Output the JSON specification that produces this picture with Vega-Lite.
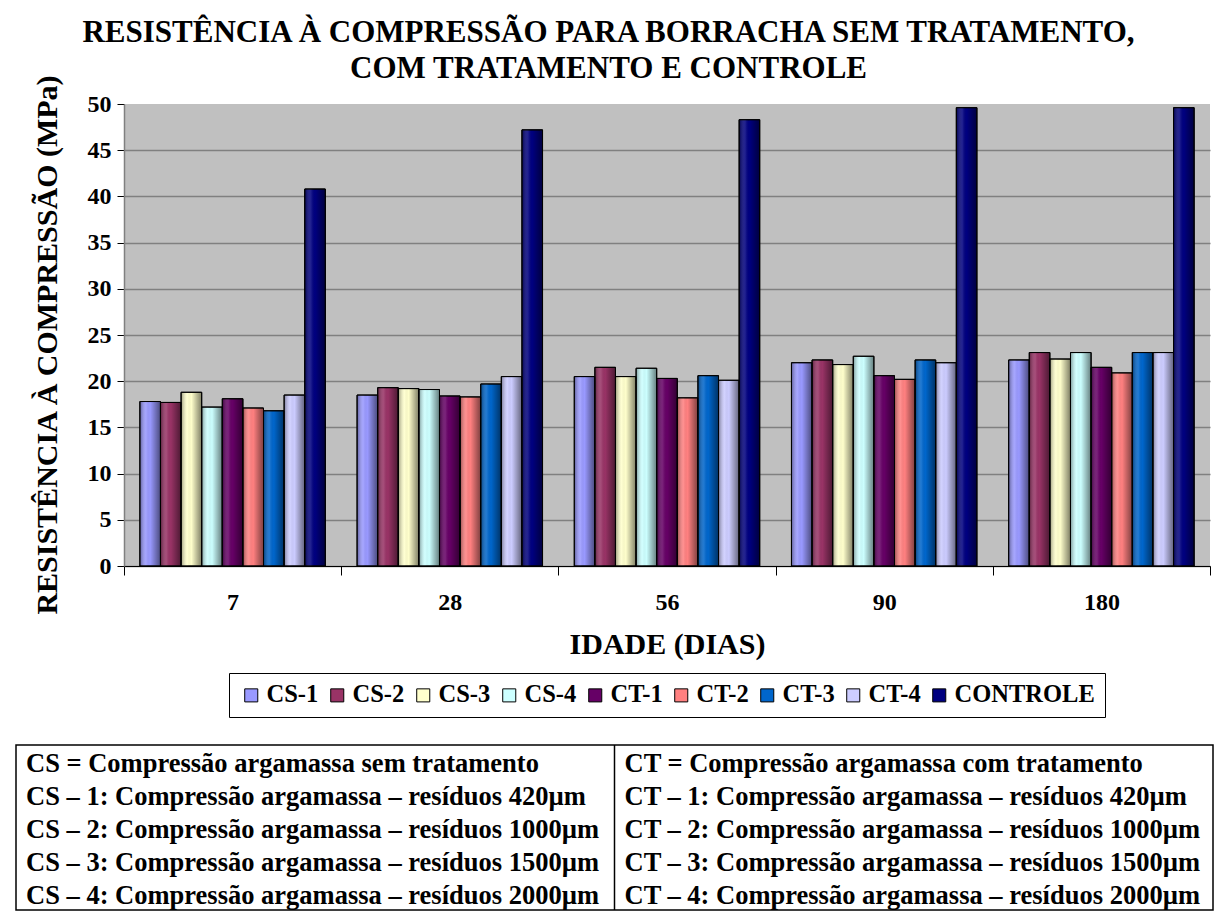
{
  "$schema": "https://vega.github.io/schema/vega-lite/v6.json",
  "padding": {"left": 15, "top": 16, "right": 10, "bottom": 5},
  "background": "white",
  "config": {
    "font": "Liberation Serif",
    "view": {"stroke": null},
    "axis": {"labelFont": "Liberation Serif", "titleFont": "Liberation Serif", "labelColor": "black", "titleColor": "black"},
    "legend": {"labelFont": "Liberation Serif", "layout": {"bottom": {"anchor": "middle"}}}
  },
  "title": {
    "text": ["RESISTÊNCIA À COMPRESSÃO PARA BORRACHA SEM TRATAMENTO,", "COM TRATAMENTO E CONTROLE"],
    "fontSize": 31,
    "lineHeight": 36,
    "font": "Liberation Serif",
    "fontWeight": "bold",
    "color": "black",
    "anchor": "middle",
    "dx": -6,
    "offset": -10
  },
  "spacing": 25,
  "resolve": {"scale": {"color": "independent"}, "legend": {"color": "independent"}},
  "vconcat": [
    {
      "spacing": 7,
      "resolve": {"scale": {"color": "independent"}, "legend": {"color": "independent"}},
      "hconcat": [
        {
          "width": 64,
          "height": 482,
          "data": {"values": [{"t": "RESISTÊNCIA À COMPRESSÃO (MPa)"}]},
          "mark": {"type": "text", "angle": 270, "fontSize": 30, "fontWeight": "bold", "font": "Liberation Serif", "color": "black", "baseline": "middle", "align": "center"},
          "encoding": {
            "text": {"field": "t"},
            "x": {"field": "t", "type": "nominal", "scale": {"type": "point", "padding": 0.5}, "axis": null},
            "y": {"field": "t", "type": "nominal", "scale": {"type": "point", "padding": 0.5}, "axis": null}
          }
        },
        {
          "width": 1086,
          "height": 462,
          "view": {"fill": "#C0C0C0", "stroke": null},
          "data": {
            "values": [
              {"idade": "7", "serie": "CS-1", "valor": 17.8},
              {"idade": "7", "serie": "CS-2", "valor": 17.7},
              {"idade": "7", "serie": "CS-3", "valor": 18.8},
              {"idade": "7", "serie": "CS-4", "valor": 17.2},
              {"idade": "7", "serie": "CT-1", "valor": 18.1},
              {"idade": "7", "serie": "CT-2", "valor": 17.1},
              {"idade": "7", "serie": "CT-3", "valor": 16.8},
              {"idade": "7", "serie": "CT-4", "valor": 18.5},
              {"idade": "7", "serie": "CONTROLE", "valor": 40.8},
              {"idade": "28", "serie": "CS-1", "valor": 18.5},
              {"idade": "28", "serie": "CS-2", "valor": 19.3},
              {"idade": "28", "serie": "CS-3", "valor": 19.2},
              {"idade": "28", "serie": "CS-4", "valor": 19.1},
              {"idade": "28", "serie": "CT-1", "valor": 18.4},
              {"idade": "28", "serie": "CT-2", "valor": 18.3},
              {"idade": "28", "serie": "CT-3", "valor": 19.7},
              {"idade": "28", "serie": "CT-4", "valor": 20.5},
              {"idade": "28", "serie": "CONTROLE", "valor": 47.2},
              {"idade": "56", "serie": "CS-1", "valor": 20.5},
              {"idade": "56", "serie": "CS-2", "valor": 21.5},
              {"idade": "56", "serie": "CS-3", "valor": 20.5},
              {"idade": "56", "serie": "CS-4", "valor": 21.4},
              {"idade": "56", "serie": "CT-1", "valor": 20.3},
              {"idade": "56", "serie": "CT-2", "valor": 18.2},
              {"idade": "56", "serie": "CT-3", "valor": 20.6},
              {"idade": "56", "serie": "CT-4", "valor": 20.1},
              {"idade": "56", "serie": "CONTROLE", "valor": 48.3},
              {"idade": "90", "serie": "CS-1", "valor": 22.0},
              {"idade": "90", "serie": "CS-2", "valor": 22.3},
              {"idade": "90", "serie": "CS-3", "valor": 21.8},
              {"idade": "90", "serie": "CS-4", "valor": 22.7},
              {"idade": "90", "serie": "CT-1", "valor": 20.6},
              {"idade": "90", "serie": "CT-2", "valor": 20.2},
              {"idade": "90", "serie": "CT-3", "valor": 22.3},
              {"idade": "90", "serie": "CT-4", "valor": 22.0},
              {"idade": "90", "serie": "CONTROLE", "valor": 49.6},
              {"idade": "180", "serie": "CS-1", "valor": 22.3},
              {"idade": "180", "serie": "CS-2", "valor": 23.1},
              {"idade": "180", "serie": "CS-3", "valor": 22.4},
              {"idade": "180", "serie": "CS-4", "valor": 23.1},
              {"idade": "180", "serie": "CT-1", "valor": 21.5},
              {"idade": "180", "serie": "CT-2", "valor": 20.9},
              {"idade": "180", "serie": "CT-3", "valor": 23.1},
              {"idade": "180", "serie": "CT-4", "valor": 23.1},
              {"idade": "180", "serie": "CONTROLE", "valor": 49.6}
            ]
          },
          "encoding": {
            "x": {
              "field": "idade",
              "type": "nominal",
              "sort": ["7", "28", "56", "90", "180"],
              "scale": {"paddingInner": 0, "paddingOuter": 0},
              "axis": {
                "title": "IDADE (DIAS)",
                "labelAngle": 0,
                "tickBand": "extent",
                "tickSize": 9,
                "tickColor": "black",
                "domainColor": "black",
                "labelFont": "Liberation Serif",
                "labelFontSize": 24,
                "labelFontWeight": "bold",
                "labelPadding": 15,
                "titleFont": "Liberation Serif",
                "titleFontSize": 30,
                "titleFontWeight": "bold",
                "titlePadding": 15
              }
            },
            "xOffset": {
              "field": "serie",
              "type": "nominal",
              "sort": ["CS-1", "CS-2", "CS-3", "CS-4", "CT-1", "CT-2", "CT-3", "CT-4", "CONTROLE"],
              "scale": {"paddingInner": 0, "paddingOuter": 0.77}
            },
            "y": {
              "field": "valor",
              "type": "quantitative",
              "scale": {"domain": [0, 50], "nice": false},
              "axis": {
                "title": null,
                "values": [0, 5, 10, 15, 20, 25, 30, 35, 40, 45, 50],
                "tickSize": 7,
                "tickColor": "black",
                "domainColor": "#808080",
                "domainWidth": 1.5,
                "gridColor": "#808080",
                "gridWidth": 1.5,
                "gridOpacity": {"condition": {"test": "datum.value == 50", "value": 0}, "value": 1},
                "labelFont": "Liberation Serif",
                "labelFontSize": 24,
                "labelFontWeight": "bold",
                "labelPadding": 6
              }
            }
          },
          "layer": [
            {
              "mark": {"type": "bar", "stroke": "black", "strokeWidth": 1},
              "encoding": {
                "color": {
                  "field": "serie",
                  "type": "nominal",
                  "sort": ["CS-1", "CS-2", "CS-3", "CS-4", "CT-1", "CT-2", "CT-3", "CT-4", "CONTROLE"],
                  "scale": {
                    "domain": ["CS-1", "CS-2", "CS-3", "CS-4", "CT-1", "CT-2", "CT-3", "CT-4", "CONTROLE"],
                    "range": ["#9999FF", "#993366", "#FFFFCC", "#CCFFFF", "#660066", "#FF8080", "#0066CC", "#CCCCFF", "#000080"]
                  },
                  "legend": {
                    "title": null,
                    "orient": "bottom",
                    "direction": "horizontal",
                    "strokeColor": "black",
                    "padding": 10,
                    "offset": 14,
                    "symbolType": "square",
                    "symbolSize": 170,
                    "symbolStrokeColor": "black",
                    "symbolStrokeWidth": 1,
                    "symbolOpacity": 1,
                    "labelFont": "Liberation Serif",
                    "labelFontSize": 24.5,
                    "labelFontWeight": "bold",
                    "labelColor": "black",
                    "labelOffset": 3,
                    "columnPadding": 6
                  }
                }
              }
            },
            {
              "mark": {
                "type": "bar",
                "stroke": "black",
                "strokeWidth": 1,
                "fill": {
                  "gradient": "linear",
                  "x1": 0, "y1": 0, "x2": 1, "y2": 0,
                  "stops": [
                    {"offset": 0, "color": "rgba(0,0,0,0.4)"},
                    {"offset": 0.3, "color": "rgba(255,255,255,0.12)"},
                    {"offset": 0.5, "color": "rgba(0,0,0,0)"},
                    {"offset": 1, "color": "rgba(0,0,0,0.5)"}
                  ]
                }
              },
              "encoding": {}
            }
          ]
        }
      ]
    },
    {
      "width": 1197,
      "height": 165,
      "view": {"stroke": "black", "strokeWidth": 1.5},
      "data": {
        "values": [
          {"col": "CS", "row": 1, "texto": "CS = Compressão argamassa sem tratamento"},
          {"col": "CS", "row": 2, "texto": "CS – 1: Compressão argamassa – resíduos 420µm"},
          {"col": "CS", "row": 3, "texto": "CS – 2: Compressão argamassa – resíduos 1000µm"},
          {"col": "CS", "row": 4, "texto": "CS – 3: Compressão argamassa – resíduos 1500µm"},
          {"col": "CS", "row": 5, "texto": "CS – 4: Compressão argamassa – resíduos 2000µm"},
          {"col": "CT", "row": 1, "texto": "CT = Compressão argamassa com tratamento"},
          {"col": "CT", "row": 2, "texto": "CT – 1: Compressão argamassa – resíduos 420µm"},
          {"col": "CT", "row": 3, "texto": "CT – 2: Compressão argamassa – resíduos 1000µm"},
          {"col": "CT", "row": 4, "texto": "CT – 3: Compressão argamassa – resíduos 1500µm"},
          {"col": "CT", "row": 5, "texto": "CT – 4: Compressão argamassa – resíduos 2000µm"}
        ]
      },
      "layer": [
        {
          "mark": {"type": "text", "align": "left", "baseline": "middle", "dx": 10, "dy": 2, "fontSize": 26.5, "fontWeight": "bold", "color": "black", "font": "Liberation Serif"},
          "encoding": {
            "x": {"field": "col", "type": "nominal", "bandPosition": 0, "scale": {"type": "band", "paddingInner": 0, "paddingOuter": 0}, "axis": null},
            "y": {"field": "row", "type": "ordinal", "scale": {"type": "band", "paddingInner": 0, "paddingOuter": 0}, "axis": null},
            "text": {"field": "texto"}
          }
        },
        {
          "transform": [{"filter": "datum.col == 'CT' && datum.row == 1"}],
          "mark": {"type": "rule", "color": "black", "strokeWidth": 1.5},
          "encoding": {
            "x": {"field": "col", "type": "nominal", "bandPosition": 0}
          }
        }
      ]
    }
  ]
}
